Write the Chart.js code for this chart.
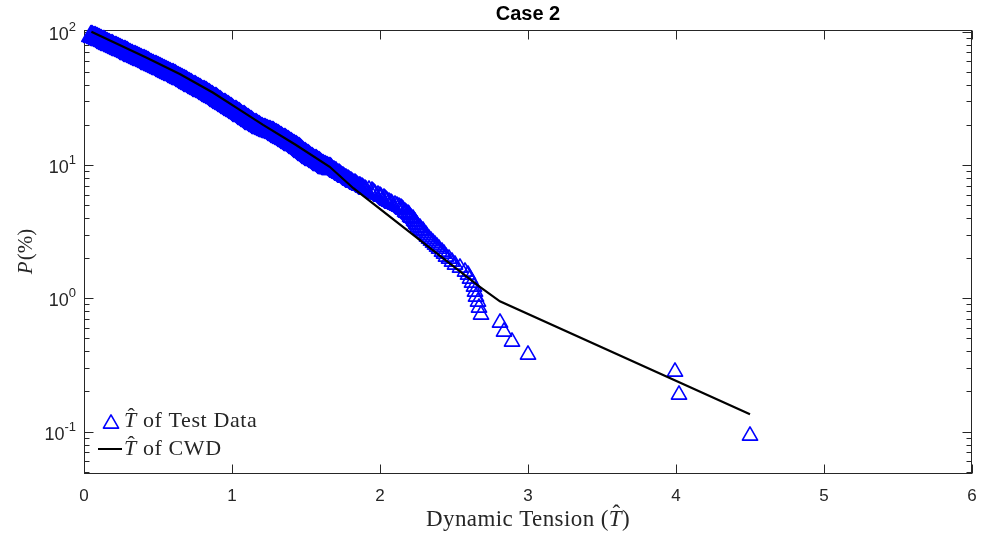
<!DOCTYPE html>
<html>
<head>
<meta charset="utf-8">
<title>Case 2</title>
<script src="https://cdn.jsdelivr.net/npm/chart.js@4.4.0/dist/chart.umd.min.js"></script>
<style>
  html, body { margin: 0; padding: 0; background: #fff; }
  #wrap { width: 982px; height: 542px; }
</style>
</head>
<body>
<div id="wrap"><canvas id="chart" width="982" height="542"></canvas></div>
<script>
// Case 2 - exceedance probability of the dynamic tension, test data against the CWD curve

const tensionTicks = [0, 1, 2, 3, 4, 5, 6];
const probDecades = [0.1, 1, 10, 100];
const probMinor = [0.05, 0.06, 0.07, 0.08, 0.09,
  0.2, 0.3, 0.4, 0.5, 0.6, 0.7, 0.8, 0.9,
  2, 3, 4, 5, 6, 7, 8, 9,
  20, 30, 40, 50, 60, 70, 80, 90];

// test data: sorted tension and exceedance probability in %
const testTension = [
  0.050, 0.057, 0.063, 0.072, 0.081, 0.088, 0.094, 0.102, 0.110, 0.118,
  0.125, 0.133, 0.141, 0.148, 0.154, 0.162, 0.170, 0.178, 0.186, 0.193,
  0.199, 0.207, 0.215, 0.223, 0.231, 0.238, 0.244, 0.252, 0.260, 0.268,
  0.276, 0.283, 0.289, 0.297, 0.305, 0.313, 0.321, 0.327, 0.333, 0.342,
  0.351, 0.359, 0.366, 0.372, 0.379, 0.387, 0.395, 0.403, 0.411, 0.418,
  0.424, 0.432, 0.440, 0.448, 0.456, 0.463, 0.469, 0.477, 0.485, 0.493,
  0.501, 0.508, 0.514, 0.522, 0.530, 0.538, 0.546, 0.553, 0.559, 0.567,
  0.575, 0.583, 0.591, 0.598, 0.604, 0.612, 0.620, 0.628, 0.636, 0.643,
  0.649, 0.657, 0.665, 0.673, 0.681, 0.688, 0.694, 0.702, 0.710, 0.718,
  0.726, 0.733, 0.739, 0.747, 0.755, 0.763, 0.771, 0.778, 0.784, 0.792,
  0.800, 0.808, 0.816, 0.823, 0.829, 0.837, 0.845, 0.853, 0.861, 0.868,
  0.874, 0.882, 0.890, 0.898, 0.906, 0.913, 0.919, 0.927, 0.935, 0.943,
  0.951, 0.958, 0.964, 0.972, 0.980, 0.988, 0.996, 1.003, 1.009, 1.017,
  1.025, 1.033, 1.041, 1.048, 1.054, 1.062, 1.070, 1.078, 1.086, 1.093,
  1.099, 1.107, 1.115, 1.123, 1.131, 1.138, 1.144, 1.152, 1.160, 1.168,
  1.176, 1.183, 1.189, 1.197, 1.205, 1.213, 1.221, 1.228, 1.234, 1.242,
  1.250, 1.258, 1.266, 1.273, 1.279, 1.287, 1.295, 1.303, 1.311, 1.318,
  1.324, 1.332, 1.340, 1.348, 1.356, 1.363, 1.369, 1.377, 1.385, 1.393,
  1.401, 1.408, 1.414, 1.422, 1.430, 1.438, 1.446, 1.453, 1.459, 1.467,
  1.475, 1.483, 1.491, 1.498, 1.504, 1.512, 1.520, 1.528, 1.536, 1.543,
  1.549, 1.557, 1.565, 1.573, 1.581, 1.588, 1.594, 1.602, 1.610, 1.618,
  1.626, 1.633, 1.639, 1.645, 1.650, 1.656, 1.661, 1.666, 1.670,
  1.680, 1.688, 1.693, 1.700, 1.706, 1.712, 1.720, 1.724, 1.731, 1.738,
  1.745, 1.752, 1.760, 1.766, 1.772, 1.781, 1.790, 1.796, 1.805, 1.812,
  1.820, 1.828, 1.835, 1.847, 1.855, 1.862, 1.878, 1.886, 1.897, 1.905,
  1.926, 1.948, 1.952, 1.958, 1.968, 1.985, 1.998, 2.010, 2.024, 2.031,
  2.042, 2.050, 2.063, 2.075, 2.084, 2.102, 2.115, 2.128, 2.140, 2.148,
  2.157, 2.166, 2.178, 2.186, 2.196, 2.205, 2.212, 2.220, 2.228, 2.236,
  2.245, 2.252, 2.260, 2.270, 2.280, 2.290, 2.300, 2.309, 2.318, 2.330,
  2.342, 2.356, 2.372, 2.386, 2.402, 2.418, 2.433, 2.449, 2.468, 2.486,
  2.508, 2.538, 2.572, 2.592, 2.606, 2.622, 2.636, 2.645, 2.652, 2.660,
  2.670, 2.680, 2.810, 2.840, 2.890, 3.000, 3.990, 4.020, 4.500
];
const testProb = [
  100, 99.1, 98.2, 97.3, 96.4, 95.5, 94.7, 93.8, 93.0, 92.1,
  91.3, 90.5, 89.7, 88.9, 88.1, 87.3, 86.5, 85.7, 85.0, 84.2,
  83.4, 82.6, 81.9, 81.2, 80.5, 79.7, 79.0, 78.3, 77.6, 76.9,
  76.2, 75.5, 74.9, 74.2, 73.5, 72.8, 72.2, 71.5, 70.9, 70.2,
  69.6, 69.0, 68.4, 67.7, 67.1, 66.5, 65.9, 65.3, 64.8, 64.2,
  63.6, 63.0, 62.4, 61.8, 61.2, 60.6, 60.1, 59.5, 59.0, 58.4,
  57.9, 57.3, 56.8, 56.3, 55.8, 55.2, 54.7, 54.2, 53.7, 53.2,
  52.7, 52.2, 51.7, 51.2, 50.8, 50.3, 49.8, 49.3, 48.9, 48.4,
  48.0, 47.5, 47.0, 46.5, 46.0, 45.5, 45.0, 44.5, 44.0, 43.5,
  43.1, 42.6, 42.2, 41.7, 41.3, 40.8, 40.4, 39.9, 39.5, 39.1,
  38.7, 38.3, 37.9, 37.5, 37.1, 36.7, 36.3, 35.9, 35.5, 35.1,
  34.7, 34.3, 33.9, 33.4, 33.0, 32.6, 32.2, 31.8, 31.4, 31.0,
  30.7, 30.3, 29.9, 29.5, 29.2, 28.8, 28.5, 28.1, 27.8, 27.4,
  27.1, 26.7, 26.4, 26.1, 25.8, 25.5, 25.2, 24.8, 24.5, 24.2,
  23.9, 23.6, 23.4, 23.1, 22.8, 22.5, 22.2, 21.9, 21.7, 21.4,
  21.2, 20.9, 20.7, 20.4, 20.2, 20.05, 19.9, 19.75, 19.6, 19.45,
  19.3, 19.15, 19.05, 18.9, 18.8, 18.55, 18.3, 18.1, 17.9, 17.7,
  17.5, 17.3, 17.1, 16.9, 16.7, 16.5, 16.3, 16.1, 15.9, 15.75,
  15.6, 15.4, 15.2, 15.05, 14.9, 14.7, 14.5, 14.3, 14.1, 13.85,
  13.6, 13.45, 13.3, 13.05, 12.8, 12.65, 12.5, 12.35, 12.2, 12.05,
  11.9, 11.75, 11.6, 11.45, 11.3, 11.2, 11.1, 10.95, 10.8, 10.65,
  10.5, 10.4, 10.3, 10.25, 10.2, 10.15, 10.1, 10.05, 10.0,
  9.9, 9.8, 9.7, 9.6, 9.5, 9.4, 9.3, 9.2, 9.1, 9.0,
  8.9, 8.8, 8.7, 8.6, 8.5, 8.4, 8.3, 8.2, 8.1, 8.0,
  7.9, 7.8, 7.7, 7.6, 7.5, 7.4, 7.3, 7.2, 7.1, 7.0,
  6.9, 6.8, 6.7, 6.6, 6.5, 6.4, 6.3, 6.2, 6.1, 6.0,
  5.9, 5.8, 5.7, 5.6, 5.5, 5.4, 5.3, 5.2, 5.1, 5.0,
  4.9, 4.8, 4.7, 4.6, 4.5, 4.4, 4.3, 4.2, 4.1, 4.0,
  3.9, 3.8, 3.7, 3.6, 3.5, 3.4, 3.3, 3.2, 3.1, 3.0,
  2.9, 2.8, 2.7, 2.6, 2.5, 2.4, 2.3, 2.2, 2.1, 2.0,
  1.9, 1.8, 1.7, 1.6, 1.5, 1.4, 1.3, 1.2, 1.1, 1.0,
  0.9, 0.8, 0.7, 0.6, 0.5, 0.4, 0.3, 0.2, 0.1
];

// CWD curve
const cwdTension = [0.05, 0.42, 0.65, 0.87, 1.05, 1.21, 1.43, 1.66, 1.82, 2.67, 2.81, 4.50];
const cwdProb = [100, 64, 48, 35, 26, 20, 14.2, 9.7, 6.7, 1.23, 0.95, 0.135];

const BLUE = '#0000ff';
const INK = '#262626';
const SANS = '"Liberation Sans", Arial, Helvetica, sans-serif';
const SERIF = '"Liberation Serif", "Times New Roman", serif';

// triangle marker; its box sits a little below the data point
function makeTriangle(h, filled) {
  const c = document.createElement('canvas');
  c.width = Math.ceil(h * 1.2 + 4);
  c.height = Math.ceil(h + 8);
  const g = c.getContext('2d');
  const half = h / Math.sqrt(3);
  const cx = c.width / 2;
  const top = (c.height - h) / 2 + 1.5;
  g.beginPath();
  g.moveTo(cx, top);
  g.lineTo(cx + half, top + h);
  g.lineTo(cx - half, top + h);
  g.closePath();
  g.lineJoin = 'round';
  g.lineWidth = 1.6;
  g.strokeStyle = BLUE;
  if (filled) {
    g.fillStyle = BLUE;
    g.fill();
  }
  g.stroke();
  return c;
}
const triOpen = makeTriangle(13.2, false);
// the dense band: hundreds of overlapping outlines read as one solid strip
const triSolid = makeTriangle(13.2, true);
const triBand = makeTriangle(16, true);

function markerFor(ctx) {
  const p = ctx.raw ? ctx.raw.y : 0;
  if (p >= 10) return triBand;
  if (p >= 7.5) return triSolid;
  return triOpen;
}

// italic T with a hat, returns its advance
function hatT(ctx, x, y, size) {
  ctx.font = `italic ${size}px ${SERIF}`;
  const w = ctx.measureText('T').width;
  ctx.textAlign = 'left';
  ctx.fillText('T', x, y);
  ctx.font = `${size}px ${SERIF}`;
  ctx.textAlign = 'center';
  ctx.fillText('\u02C6', x + w * 0.58, y - size * 0.2);
  ctx.textAlign = 'left';
  return w;
}

function seg(ctx, x1, y1, x2, y2) {
  ctx.beginPath();
  ctx.moveTo(x1, y1);
  ctx.lineTo(x2, y2);
  ctx.stroke();
}

const axesBox = {
  id: 'axesBox',
  beforeDatasetsDraw(chart) {
    const { ctx, chartArea: a, scales: { x, y } } = chart;
    const L = Math.round(a.left) + 0.5, R = Math.round(a.right) - 0.5;
    const T = Math.round(a.top) + 0.5, B = Math.round(a.bottom) - 0.5;
    ctx.save();
    ctx.strokeStyle = INK;
    ctx.lineWidth = 1;
    ctx.strokeRect(L, T, R - L, B - T);

    tensionTicks.forEach(v => {
      const px = Math.round(x.getPixelForValue(v)) + 0.5;
      seg(ctx, px, B, px, B - 9);
      seg(ctx, px, T, px, T + 9);
    });
    probDecades.forEach(v => {
      const py = Math.round(y.getPixelForValue(v)) + 0.5;
      seg(ctx, L, py, L + 9, py);
      seg(ctx, R, py, R - 9, py);
    });
    probMinor.forEach(v => {
      const py = Math.round(y.getPixelForValue(v)) + 0.5;
      seg(ctx, L, py, L + 5, py);
      seg(ctx, R, py, R - 5, py);
    });
    ctx.restore();
    ctx.imageSmoothingEnabled = false;
  },
  afterDraw(chart) {
    const { ctx, chartArea: a, scales: { x, y } } = chart;
    ctx.save();
    ctx.fillStyle = INK;

    // x tick labels
    ctx.font = `17px ${SANS}`;
    ctx.textAlign = 'center';
    ctx.textBaseline = 'alphabetic';
    tensionTicks.forEach(v => ctx.fillText(String(v), x.getPixelForValue(v), 501));

    // y tick labels as powers of ten
    probDecades.forEach(v => {
      const py = y.getPixelForValue(v);
      const exp = String(Math.round(Math.log10(v)));
      ctx.font = `13px ${SANS}`;
      const ew = ctx.measureText(exp).width;
      ctx.textAlign = 'left';
      ctx.fillText(exp, 76 - ew, py - 1);
      ctx.font = `18px ${SANS}`;
      ctx.textAlign = 'right';
      ctx.fillText('10', 76 - ew, py + 8);
    });

    // title
    ctx.fillStyle = '#000';
    ctx.font = `bold 20px ${SANS}`;
    ctx.textAlign = 'center';
    ctx.textBaseline = 'middle';
    ctx.fillText('Case 2', (a.left + a.right) / 2, 14);
    ctx.textBaseline = 'alphabetic';

    // x axis title
    ctx.fillStyle = INK;
    ctx.letterSpacing = '0.4px';
    const xs = 23;
    ctx.font = `${xs}px ${SERIF}`;
    const head = 'Dynamic Tension (';
    const hw = ctx.measureText(head).width;
    ctx.font = `italic ${xs}px ${SERIF}`;
    const tw = ctx.measureText('T').width;
    ctx.font = `${xs}px ${SERIF}`;
    const pw = ctx.measureText(')').width;
    let cx = (a.left + a.right) / 2 - (hw + tw + pw) / 2;
    ctx.textAlign = 'left';
    ctx.fillText(head, cx, 526);
    cx += hw;
    cx += hatT(ctx, cx, 526, xs);
    ctx.font = `${xs}px ${SERIF}`;
    ctx.fillText(')', cx, 526);

    // y axis title, rotated
    ctx.letterSpacing = '0px';
    ctx.save();
    ctx.translate(32, (a.top + a.bottom) / 2);
    ctx.rotate(-Math.PI / 2);
    ctx.font = `italic 21px ${SERIF}`;
    const pW = ctx.measureText('P').width;
    ctx.font = `21px ${SERIF}`;
    const rW = ctx.measureText('(%)').width;
    const yx = -(pW + rW) / 2;
    ctx.font = `italic 21px ${SERIF}`;
    ctx.fillText('P', yx, 0);
    ctx.font = `21px ${SERIF}`;
    ctx.fillText('(%)', yx + pW + 1, 0);
    ctx.restore();

    // legend
    ctx.letterSpacing = '0.6px';
    const ls = 22;
    ctx.drawImage(triOpen, Math.round(110.5 - triOpen.width / 2), Math.round(420 - triOpen.height / 2));
    let lx = 124;
    lx += hatT(ctx, lx, 427, ls);
    ctx.font = `${ls}px ${SERIF}`;
    ctx.fillText(' of Test Data', lx, 427);

    ctx.strokeStyle = '#000';
    ctx.lineWidth = 2;
    seg(ctx, 98, 449, 122, 449);
    lx = 124;
    lx += hatT(ctx, lx, 455, ls);
    ctx.font = `${ls}px ${SERIF}`;
    ctx.fillText(' of CWD', lx, 455);
    ctx.restore();
  }
};

const testPoints = testTension.map((t, i) => ({ x: t, y: testProb[i] }));
const cwdPoints = cwdTension.map((t, i) => ({ x: t, y: cwdProb[i] }));

new Chart(document.getElementById('chart'), {
  type: 'scatter',
  data: {
    datasets: [
      {
        label: 'T of CWD',
        data: cwdPoints,
        showLine: true,
        borderColor: '#000',
        borderWidth: 2.2,
        pointRadius: 0,
        fill: false,
        tension: 0
      },
      {
        label: 'T of Test Data',
        data: testPoints,
        showLine: false,
        pointStyle: markerFor,
        pointRadius: 9,
        clip: false
      }
    ]
  },
  options: {
    responsive: false,
    animation: false,
    devicePixelRatio: 1,
    events: [],
    layout: { padding: { left: 84, top: 30, right: 8, bottom: 68 } },
    scales: {
      x: { type: 'linear', min: 0, max: 6, display: false },
      y: { type: 'logarithmic', min: 0.0481, max: 103, display: false }
    },
    plugins: {
      legend: { display: false },
      title: { display: false },
      tooltip: { enabled: false }
    }
  },
  plugins: [axesBox]
});
</script>
</body>
</html>
